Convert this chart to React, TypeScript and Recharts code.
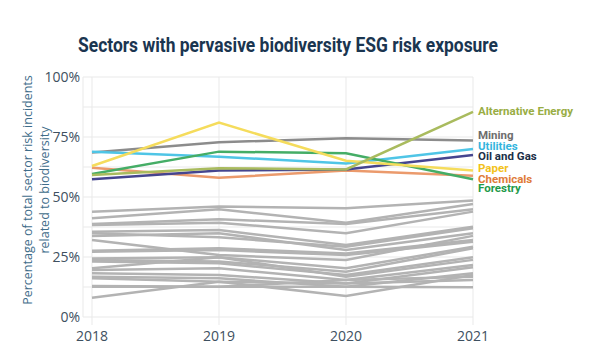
import { LineChart, Line, XAxis, YAxis, CartesianGrid, LabelList } from 'recharts';

const years = ['2018', '2019', '2020', '2021'];

// highlighted sectors, share of incidents (%) per year
const alternativeEnergy = [59.2, 62, 61.5, 85.5];
const mining = [68.5, 72.8, 74.5, 73.5];
const utilities = [68.9, 66.8, 64, 70];
const oilAndGas = [57.4, 61, 61.5, 67.5];
const paper = [62.9, 81, 65.1, 61];
const chemicals = [62.2, 58, 61, 58.9];
const forestry = [59.6, 68.9, 68.2, 57.4];

// all other sectors (grey background lines)
const otherSectors: number[][] = [
  [43.9, 46, 45.3, 48.5],
  [41.1, 44.9, 39.3, 47.1],
  [38.8, 40.7, 38.8, 44.9],
  [38.3, 39.3, 34.9, 43.9],
  [35.5, 36.2, 30, 37.6],
  [34.9, 33.2, 29.3, 37],
  [33.8, 34.9, 27.9, 34.9],
  [32.1, 25.8, 23.8, 33.8],
  [27.6, 28.6, 26.5, 32.1],
  [27.2, 27.9, 25.8, 31.4],
  [24.4, 24.9, 20.3, 29.3],
  [23.8, 23.1, 18.9, 28.6],
  [23.1, 22.4, 17.5, 24.9],
  [20.3, 24.9, 16.8, 23.8],
  [19.6, 20.3, 15.4, 21.7],
  [18.2, 17.5, 14, 20.7],
  [16.8, 16.1, 12.6, 18.2],
  [16.1, 14.7, 8.8, 17.5],
  [12.9, 12.6, 15.4, 16.8],
  [8, 14.7, 14, 15.4],
  [12.6, 12.6, 12.6, 12.4],
];

const yTicks = [0, 25, 50, 75, 100];
const gridValues = [0, 12.5, 25, 37.5, 50, 62.5, 75, 87.5, 100];

const highlighted = [
  { key: 'mining', name: 'Mining', values: mining, color: '#8c8c8c', text: '#6d6d6d', dy: -6 },
  { key: 'chemicals', name: 'Chemicals', values: chemicals, color: '#eb9a6c', text: '#e07b39', dy: 3 },
  { key: 'oilAndGas', name: 'Oil and Gas', values: oilAndGas, color: '#45458f', text: '#1c2f48', dy: 1 },
  { key: 'utilities', name: 'Utilities', values: utilities, color: '#4fc5e6', text: '#33b5de', dy: -3 },
  { key: 'forestry', name: 'Forestry', values: forestry, color: '#45ad66', text: '#1f9a4a', dy: 9 },
  { key: 'paper', name: 'Paper', values: paper, color: '#f5dc5c', text: '#f2c21b', dy: -3 },
  { key: 'alternativeEnergy', name: 'Alternative Energy', values: alternativeEnergy, color: '#a9bb5e', text: '#99ad44', dy: -1 },
];

const rows = years.map((year, i) => {
  const row: Record<string, string | number> = { year };
  otherSectors.forEach((s, j) => {
    row[`other${j}`] = s[i];
  });
  highlighted.forEach((h) => {
    row[h.key] = h.values[i];
  });
  return row;
});

function endLabel(name: string, color: string, dy: number) {
  return (props: any) => {
    if (props.index !== years.length - 1) return null;
    return (
      <text
        x={props.x + 5}
        y={props.y + dy}
        dy="0.35em"
        fill={color}
        fontFamily="Roboto, sans-serif"
        fontWeight={700}
        fontSize={11.5}
      >
        {name}
      </text>
    );
  };
}

export default function App() {
  return (
    <div style={{ position: 'absolute', left: 0, top: 0, width: 600, height: 362, background: '#fff' }}>
      <LineChart width={600} height={362} data={rows} margin={{ top: 77, right: 127, bottom: 0, left: 0 }}>
        <CartesianGrid stroke="#e9e9e9" horizontalValues={gridValues} />
        <XAxis
          dataKey="year"
          axisLine={false}
          tickLine={{ stroke: '#e9e9e9' }}
          tickSize={8}
          tickMargin={6}
          height={45}
          padding={{ left: 9, right: 0 }}
          tick={{ fontSize: 14, fill: '#3e5060', fontFamily: 'Open Sans, sans-serif' }}
        />
        <YAxis
          domain={[0, 100]}
          ticks={yTicks}
          axisLine={false}
          tickLine={false}
          tickSize={0}
          tickMargin={3}
          width={83}
          tickFormatter={(v: number) => `${v}%`}
          tick={{ fontSize: 14, fill: '#3e5060', fontFamily: 'Open Sans, sans-serif' }}
        />
        {otherSectors.map((_, j) => (
          <Line
            key={`other${j}`}
            dataKey={`other${j}`}
            stroke="#b3b3b3"
            strokeWidth={2.5}
            dot={false}
            isAnimationActive={false}
          />
        ))}
        {highlighted.map((h) => (
          <Line
            key={h.key}
            dataKey={h.key}
            stroke={h.color}
            strokeWidth={2.5}
            dot={false}
            isAnimationActive={false}
          >
            <LabelList dataKey={h.key} content={endLabel(h.name, h.text, h.dy)} />
          </Line>
        ))}
      </LineChart>
      <svg width={600} height={362} style={{ position: 'absolute', left: 0, top: 0, pointerEvents: 'none' }}>
        <text
          x={78}
          y={52}
          fill="#1a3550"
          fontFamily="Roboto, sans-serif"
          fontWeight={700}
          fontSize={20}
          textLength={420}
          lengthAdjust="spacingAndGlyphs"
        >
          Sectors with pervasive biodiversity ESG risk exposure
        </text>
        <g transform="translate(0, 190) rotate(-90)" fill="#3f6d8a" fontFamily="Open Sans, sans-serif" fontSize={12.5}>
          <text x={0} y={32} textAnchor="middle">Percentage of total sector risk incidents</text>
          <text x={0} y={49} textAnchor="middle">related to biodiversity</text>
        </g>
      </svg>
    </div>
  );
}
